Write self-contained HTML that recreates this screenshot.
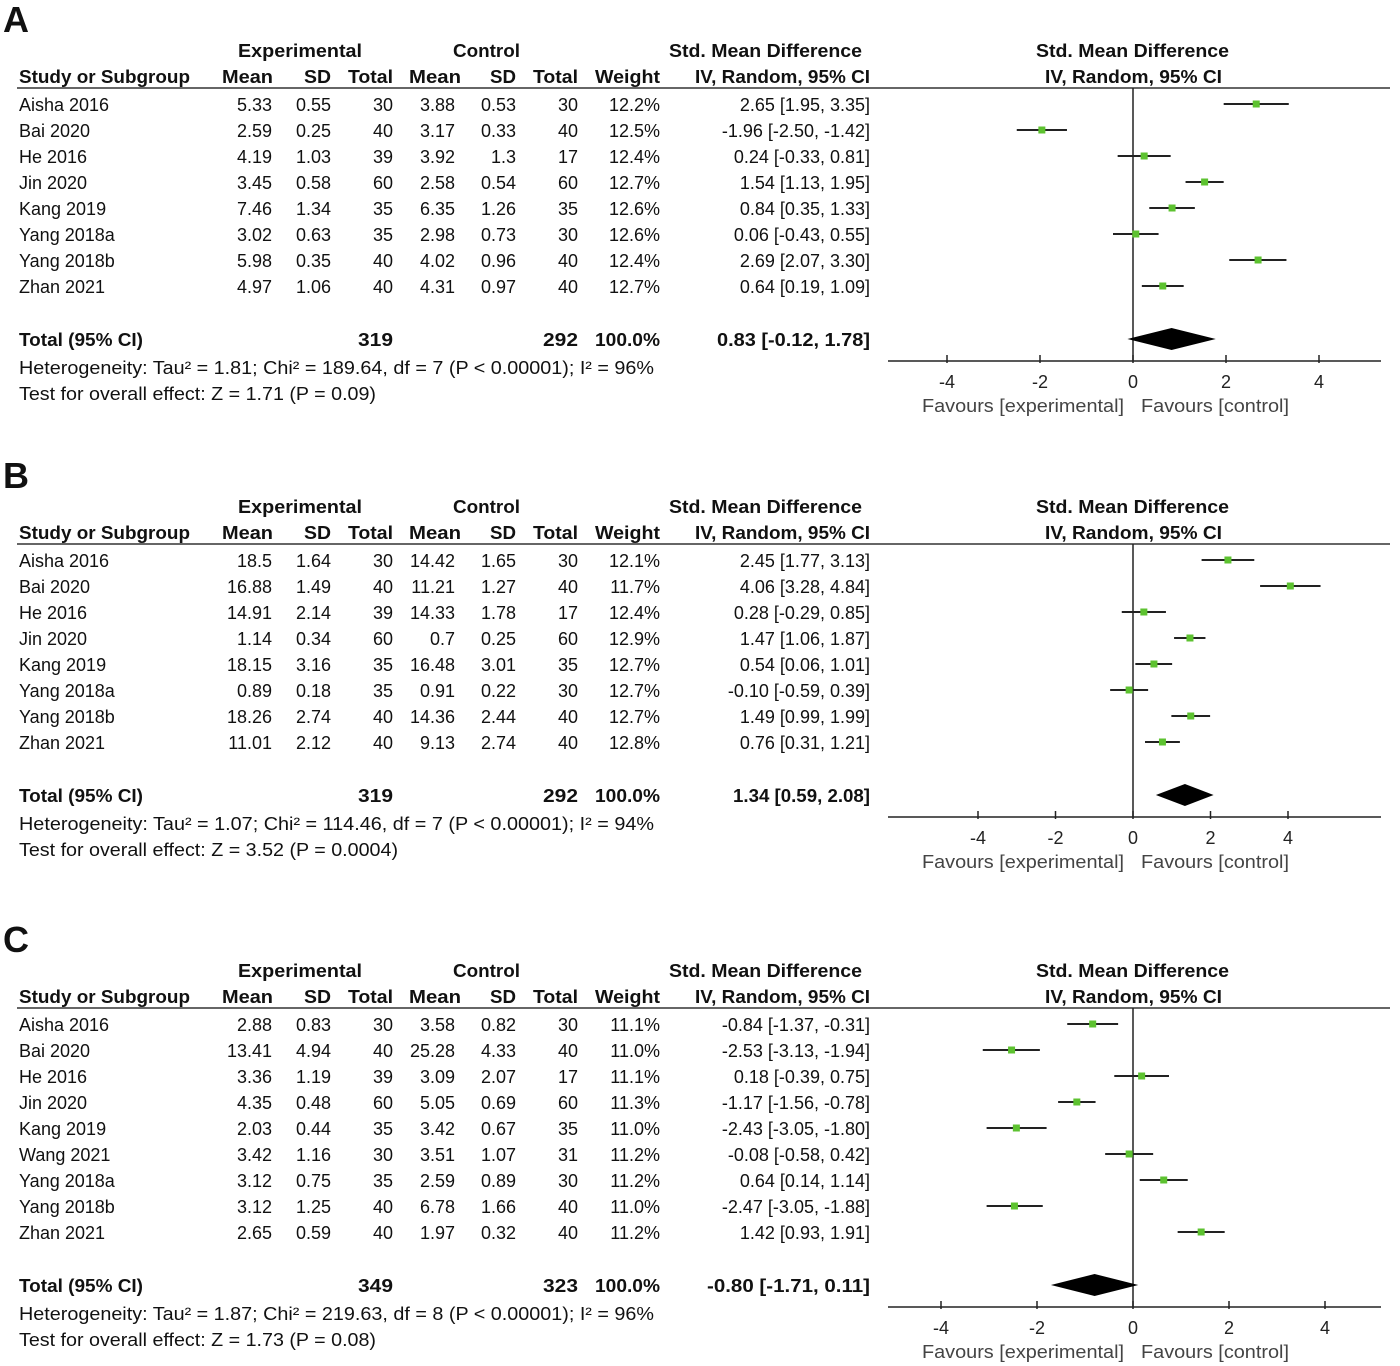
<!DOCTYPE html>
<html><head><meta charset="utf-8"><style>
body{margin:0;background:#fff;}
svg{display:block;font-family:"Liberation Sans",Arial,sans-serif;}
</style></head><body>
<svg id="fig" width="1400" height="1366" viewBox="0 0 1400 1366" xmlns="http://www.w3.org/2000/svg"></svg>
<script>
// ---- Panel A data ----
const studiesA = ["Aisha 2016","Bai 2020","He 2016","Jin 2020","Kang 2019","Yang 2018a","Yang 2018b","Zhan 2021"];
const expMeanA = ["5.33","2.59","4.19","3.45","7.46","3.02","5.98","4.97"];
const expSDA = ["0.55","0.25","1.03","0.58","1.34","0.63","0.35","1.06"];
const expNA = ["30","40","39","60","35","35","40","40"];
const ctlMeanA = ["3.88","3.17","3.92","2.58","6.35","2.98","4.02","4.31"];
const ctlSDA = ["0.53","0.33","1.3","0.54","1.26","0.73","0.96","0.97"];
const ctlNA = ["30","40","17","60","35","30","40","40"];
const weightA = ["12.2%","12.5%","12.4%","12.7%","12.6%","12.6%","12.4%","12.7%"];
const smdA = [2.65,-1.96,0.24,1.54,0.84,0.06,2.69,0.64];
const loA = [1.95,-2.50,-0.33,1.13,0.35,-0.43,2.07,0.19];
const hiA = [3.35,-1.42,0.81,1.95,1.33,0.55,3.30,1.09];
const totalA = [0.83,-0.12,1.78];
// ---- Panel B data ----
const studiesB = ["Aisha 2016","Bai 2020","He 2016","Jin 2020","Kang 2019","Yang 2018a","Yang 2018b","Zhan 2021"];
const expMeanB = ["18.5","16.88","14.91","1.14","18.15","0.89","18.26","11.01"];
const expSDB = ["1.64","1.49","2.14","0.34","3.16","0.18","2.74","2.12"];
const expNB = ["30","40","39","60","35","35","40","40"];
const ctlMeanB = ["14.42","11.21","14.33","0.7","16.48","0.91","14.36","9.13"];
const ctlSDB = ["1.65","1.27","1.78","0.25","3.01","0.22","2.44","2.74"];
const ctlNB = ["30","40","17","60","35","30","40","40"];
const weightB = ["12.1%","11.7%","12.4%","12.9%","12.7%","12.7%","12.7%","12.8%"];
const smdB = [2.45,4.06,0.28,1.47,0.54,-0.10,1.49,0.76];
const loB = [1.77,3.28,-0.29,1.06,0.06,-0.59,0.99,0.31];
const hiB = [3.13,4.84,0.85,1.87,1.01,0.39,1.99,1.21];
const totalB = [1.34,0.59,2.08];
// ---- Panel C data ----
const studiesC = ["Aisha 2016","Bai 2020","He 2016","Jin 2020","Kang 2019","Wang 2021","Yang 2018a","Yang 2018b","Zhan 2021"];
const expMeanC = ["2.88","13.41","3.36","4.35","2.03","3.42","3.12","3.12","2.65"];
const expSDC = ["0.83","4.94","1.19","0.48","0.44","1.16","0.75","1.25","0.59"];
const expNC = ["30","40","39","60","35","30","35","40","40"];
const ctlMeanC = ["3.58","25.28","3.09","5.05","3.42","3.51","2.59","6.78","1.97"];
const ctlSDC = ["0.82","4.33","2.07","0.69","0.67","1.07","0.89","1.66","0.32"];
const ctlNC = ["30","40","17","60","35","31","30","40","40"];
const weightC = ["11.1%","11.0%","11.1%","11.3%","11.0%","11.2%","11.2%","11.0%","11.2%"];
const smdC = [-0.84,-2.53,0.18,-1.17,-2.43,-0.08,0.64,-2.47,1.42];
const loC = [-1.37,-3.13,-0.39,-1.56,-3.05,-0.58,0.14,-3.05,0.93];
const hiC = [-0.31,-1.94,0.75,-0.78,-1.80,0.42,1.14,-1.88,1.91];
const totalC = [-0.80,-1.71,0.11];
const ticks = [-4,-2,0,2,4];

const NS="http://www.w3.org/2000/svg";
const svg=document.getElementById('fig');
function el(tag,attrs,parent){const e=document.createElementNS(NS,tag);for(const k in attrs)e.setAttribute(k,attrs[k]);(parent||svg).appendChild(e);return e;}
function txt(g,s,x,y,anchor,opts){opts=opts||{};
  const t=el('text',{x:x,y:y,'font-size':opts.size||18,'text-anchor':anchor||'start',fill:opts.fill||'#111'},g);
  if(opts.bold)t.setAttribute('font-weight','bold');
  if(opts.len){t.setAttribute('textLength',opts.len);t.setAttribute('lengthAdjust','spacingAndGlyphs');}
  t.textContent=s;return t;}
function f2(v){return v.toFixed(2);}

function panel(letter,top,scale,studies,em,es,en,cm,cs,cn,w,smd,lo,hi,tot,sumE,sumC,het,hetLen,test,testLen,totLen){
  const g=el('g',{});
  
  
  const X=v=>1133+v*scale;
  const L=txt(g,letter,3,top+32,'start',{size:36,bold:true});
  
  const h1=top+57,h2=top+83;
  txt(g,'Experimental',238,h1,'start',{bold:true,len:124});
  txt(g,'Control',453,h1,'start',{bold:true,len:67});
  txt(g,'Std. Mean Difference',669,h1,'start',{bold:true,len:193});
  txt(g,'Std. Mean Difference',1036,h1,'start',{bold:true,len:193});
  txt(g,'Study or Subgroup',19,h2,'start',{bold:true,len:171});
  txt(g,'Mean',273,h2,'end',{bold:true,len:51});
  txt(g,'SD',331,h2,'end',{bold:true,len:27});
  txt(g,'Total',393,h2,'end',{bold:true,len:45});
  txt(g,'Mean',461,h2,'end',{bold:true,len:52});
  txt(g,'SD',516,h2,'end',{bold:true,len:26});
  txt(g,'Total',578,h2,'end',{bold:true,len:45});
  txt(g,'Weight',660,h2,'end',{bold:true,len:65});
  txt(g,'IV, Random, 95% CI',870,h2,'end',{bold:true,len:175});
  txt(g,'IV, Random, 95% CI',1045,h2,'start',{bold:true,len:177});
  el('line',{x1:17,y1:top+88,x2:1390,y2:top+88,stroke:'#333','stroke-width':1.5},g);
  const n=studies.length;
  const totY=top+104+26*(n-1)+53;
  const axY=totY+22;
  el('line',{x1:X(0),y1:top+88,x2:X(0),y2:axY,stroke:'#222','stroke-width':1.5},g);
  for(let i=0;i<n;i++){
    const cy=top+104+26*i, by=cy+7;
    const r=el('g',{},g);
    
    txt(r,studies[i],19,by);
    txt(r,em[i],272,by,'end');txt(r,es[i],331,by,'end');txt(r,en[i],393,by,'end');
    txt(r,cm[i],455,by,'end');txt(r,cs[i],516,by,'end');txt(r,cn[i],578,by,'end');
    txt(r,w[i],660,by,'end');
    txt(r,f2(smd[i])+' ['+f2(lo[i])+', '+f2(hi[i])+']',870,by,'end');
    const ci=el('line',{x1:X(lo[i]),y1:cy,x2:X(hi[i]),y2:cy,stroke:'#222','stroke-width':2},g);
    
    const sq=el('rect',{x:X(smd[i])-3.5,y:cy-3.5,width:7,height:7,fill:'#5dc230'},g);
    
  }
  const tb=totY+7;
  txt(g,'Total (95% CI)',19,tb,'start',{bold:true,len:124});
  txt(g,sumE,393,tb,'end',{bold:true,len:35});
  txt(g,sumC,578,tb,'end',{bold:true,len:35});
  txt(g,'100.0%',660,tb,'end',{bold:true,len:65});
  txt(g,f2(tot[0])+' ['+f2(tot[1])+', '+f2(tot[2])+']',870,tb,'end',{bold:true,len:totLen});
  txt(g,het,19,totY+35,'start',{len:hetLen});
  txt(g,test,19,totY+61,'start',{len:testLen});
  const d=el('polygon',{points:[X(tot[1])+','+totY,X(tot[0])+','+(totY-11),X(tot[2])+','+totY,X(tot[0])+','+(totY+11)].join(' '),fill:'#000'},g);
  
  const ax=el('line',{x1:888,y1:axY,x2:1381,y2:axY,stroke:'#222','stroke-width':1.5},g);
  
  ticks.forEach(t=>{
    el('line',{x1:X(t),y1:axY-6,x2:X(t),y2:axY+2,stroke:'#222','stroke-width':1.5},g);
    const tl=txt(g,String(t),X(t),axY+27,'middle',{fill:'#222'});
    
  });
  txt(g,'Favours [experimental]',1124,axY+51,'end',{fill:'#444',len:202});
  txt(g,'Favours [control]',1141,axY+51,'start',{fill:'#444',len:148});
}
panel('A',0,46.5,studiesA,expMeanA,expSDA,expNA,ctlMeanA,ctlSDA,ctlNA,weightA,smdA,loA,hiA,totalA,'319','292',
 'Heterogeneity: Tau² = 1.81; Chi² = 189.64, df = 7 (P < 0.00001); I² = 96%',635,'Test for overall effect: Z = 1.71 (P = 0.09)',357,153);
panel('B',456,38.75,studiesB,expMeanB,expSDB,expNB,ctlMeanB,ctlSDB,ctlNB,weightB,smdB,loB,hiB,totalB,'319','292',
 'Heterogeneity: Tau² = 1.07; Chi² = 114.46, df = 7 (P < 0.00001); I² = 94%',635,'Test for overall effect: Z = 3.52 (P = 0.0004)',379,137);
panel('C',920,48,studiesC,expMeanC,expSDC,expNC,ctlMeanC,ctlSDC,ctlNC,weightC,smdC,loC,hiC,totalC,'349','323',
 'Heterogeneity: Tau² = 1.87; Chi² = 219.63, df = 8 (P < 0.00001); I² = 96%',635,'Test for overall effect: Z = 1.73 (P = 0.08)',357,163);
</script>
</body></html>
